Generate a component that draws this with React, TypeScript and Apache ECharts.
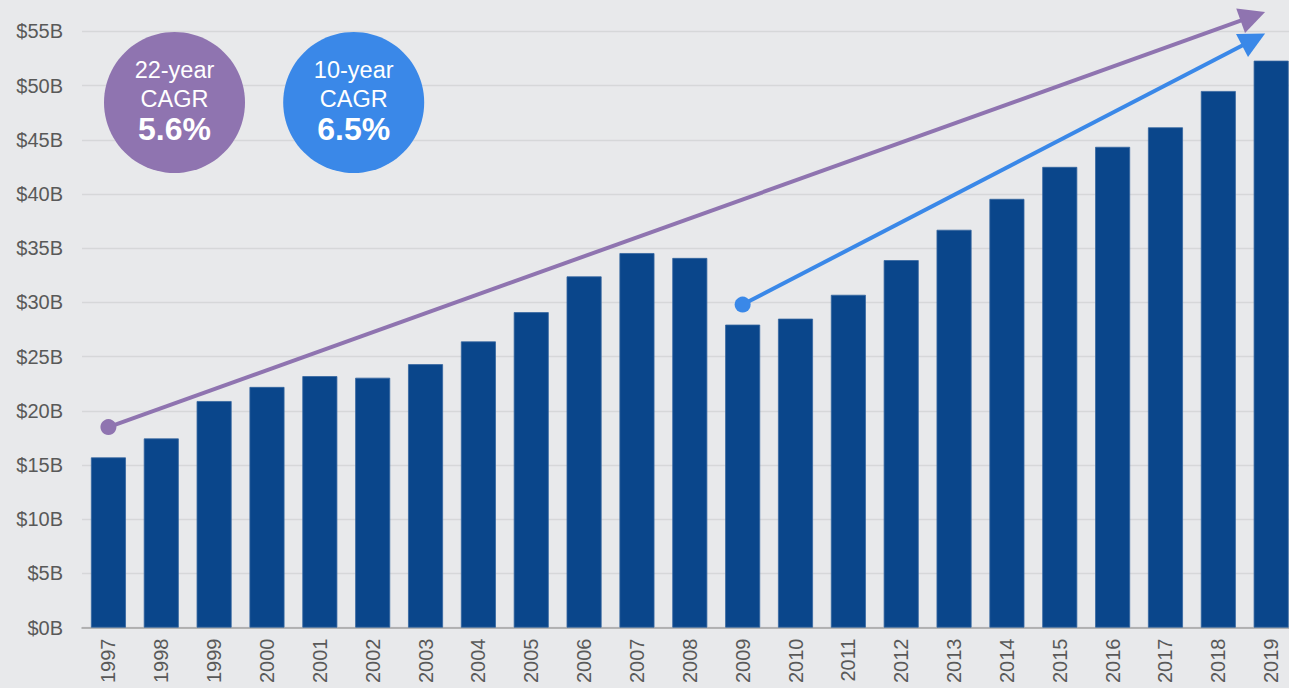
import React, { useEffect, useRef } from "react";
import * as echarts from "echarts";

const years = ["1997","1998","1999","2000","2001","2002","2003","2004","2005","2006","2007","2008","2009","2010","2011","2012","2013","2014","2015","2016","2017","2018","2019"];
const revenue = [15.7,17.45,20.9,22.2,23.2,23.05,24.3,26.4,29.1,32.4,34.55,34.1,27.95,28.5,30.7,33.9,36.7,39.55,42.5,44.35,46.15,49.5,52.3];
const yTicks = { min: 0, max: 55, interval: 5 };
// trend arrows: [startIndex, startValue, endIndex, endValue]
const arrow22 = [0, 18.5, 21.885, 56.8];
const arrow10 = [12, 29.8, 21.885, 54.8];
const badge22 = ["22-year", "CAGR", "5.6%"];
const badge10 = ["10-year", "CAGR", "6.5%"];

const PURPLE = "#8F74B0";
const BLUE = "#3A88E8";
const BAR = "#0A468B";
const BG = "#E8E9EB";
const FONT = "'Liberation Sans', Arial, Helvetica, sans-serif";

function badge(cx: number, cy: number, color: string, lines: string[]) {
  return {
    type: "group",
    z: 100,
    children: [
      { type: "circle", z: 100, shape: { cx, cy, r: 70.5 }, style: { fill: color } },
      { type: "text", z: 101, x: cx, y: cy - 32.5, style: { text: lines[0], fill: "#fff", font: `23.5px ${FONT}`, textAlign: "center", textVerticalAlign: "middle" } },
      { type: "text", z: 101, x: cx, y: cy - 3.5, style: { text: lines[1], fill: "#fff", font: `23.5px ${FONT}`, textAlign: "center", textVerticalAlign: "middle" } },
      { type: "text", z: 101, x: cx, y: cy + 26, style: { text: lines[2], fill: "#fff", font: `bold 32px ${FONT}`, textAlign: "center", textVerticalAlign: "middle" } },
    ],
  };
}

export default function App() {
  const ref = useRef<HTMLDivElement>(null);
  useEffect(() => {
    const chart = echarts.init(ref.current!, null, { renderer: "svg" });
    const arrowData = [
      { value: arrow22, itemStyle: { color: PURPLE } },
      { value: arrow10, itemStyle: { color: BLUE } },
    ];
    chart.setOption({
      animation: false,
      backgroundColor: BG,
      grid: { left: 82, right: 2.4, top: 31.4, bottom: 60.4, containLabel: false },
      xAxis: [
        {
          type: "category",
          data: years,
          axisLine: { lineStyle: { color: "#a3a3a3", width: 1.5 } },
          axisTick: { length: 6, lineStyle: { color: "#a3a3a3", width: 1.5 } },
          axisLabel: { rotate: 90, margin: 11, fontSize: 20, color: "#595959", fontFamily: FONT },
        },
        { type: "value", min: -0.5, max: 22.5, show: false },
      ],
      yAxis: {
        type: "value",
        min: yTicks.min,
        max: yTicks.max,
        interval: yTicks.interval,
        axisLine: { show: false },
        axisTick: { show: false },
        splitLine: { lineStyle: { color: "#d6d7d9", width: 1.3 } },
        axisLabel: { formatter: "${value}B", fontSize: 20, color: "#595959", fontFamily: FONT, margin: 19 },
      },
      series: [
        {
          type: "bar",
          data: revenue,
          barWidth: 35,
          itemStyle: { color: BAR, borderColor: "#3566a0", borderWidth: 0.8 },
        },
        {
          type: "custom",
          xAxisIndex: 1,
          clip: false,
          z: 5,
          encode: { x: [0, 2], y: [1, 3] },
          data: arrowData,
          renderItem: (params: any, api: any) => {
            const p0 = api.coord([api.value(0), api.value(1)]);
            const p1 = api.coord([api.value(2), api.value(3)]);
            const color = api.visual("color");
            const dx = p1[0] - p0[0];
            const dy = p1[1] - p0[1];
            const len = Math.sqrt(dx * dx + dy * dy);
            const ux = dx / len, uy = dy / len;
            const nx = -uy, ny = ux;
            const L = 26, W = 26;
            const bx = p1[0] - L * ux, by = p1[1] - L * uy;
            return {
              type: "group",
              children: [
                { type: "line", shape: { x1: p0[0], y1: p0[1], x2: bx + 3 * ux, y2: by + 3 * uy }, style: { stroke: color, lineWidth: 4 } },
                { type: "polygon", shape: { points: [[p1[0], p1[1]], [bx + nx * W / 2, by + ny * W / 2], [bx - nx * W / 2, by - ny * W / 2]] }, style: { fill: color } },
                { type: "circle", shape: { cx: p0[0], cy: p0[1], r: 8 }, style: { fill: color } },
              ],
            };
          },
        },
      ],
      graphic: [badge(174.5, 102.5, PURPLE, badge22), badge(353.7, 102.5, BLUE, badge10)],
    });
    return () => chart.dispose();
  }, []);
  return (
    <div style={{ position: "fixed", left: 0, top: 0, width: 1289, height: 688, overflow: "hidden", background: BG }}>
      <div ref={ref} style={{ width: 1300, height: 688 }} />
    </div>
  );
}
